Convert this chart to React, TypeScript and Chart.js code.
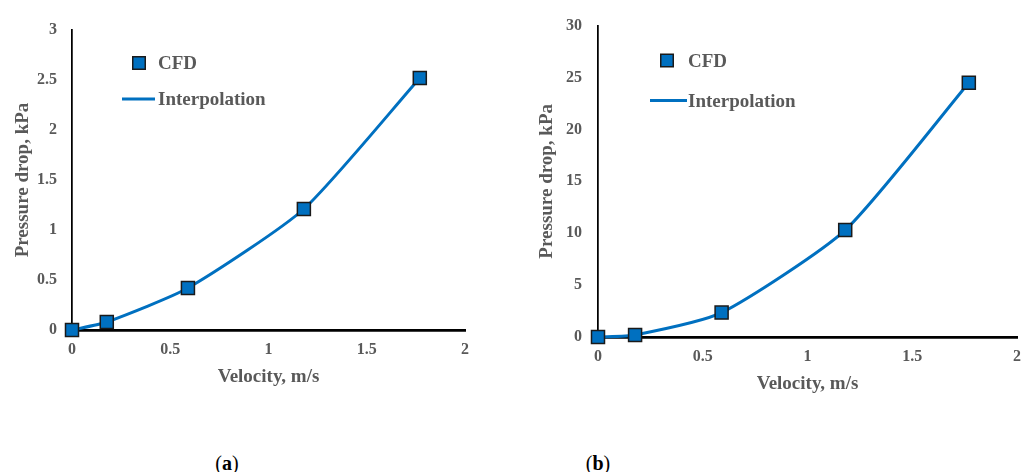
import React, { useEffect, useRef } from "react";
import { Chart, registerables } from "chart.js";

Chart.register(...registerables);

// ---------- data ----------
const velocityA = [0, 0.177, 0.59, 1.18, 1.77];
const pressureA = [0, 0.08, 0.42, 1.21, 2.52];
const velocityB = [0, 0.177, 0.59, 1.18, 1.77];
const pressureB = [0, 0.2, 2.35, 10.3, 24.5];

const xTicks = [0, 0.5, 1, 1.5, 2];
const yTicksA = [0, 0.5, 1, 1.5, 2, 2.5, 3];
const yTicksB = [0, 5, 10, 15, 20, 25, 30];

const seriesNames = ["CFD", "Interpolation"];
const xTitle = "Velocity, m/s";
const yTitle = "Pressure drop, kPa";

// ---------- styles ----------
const BLUE = "#0070C0";
const TEXT = "#595959";
const FAMILY = "'Liberation Serif', 'Times New Roman', serif";

type PanelCfg = {
  left: number;
  width: number;
  height: number;
  yAxisWidth: number;
  padTop: number;
  padRight: number;
  yTitlePad: number;
  yTickPad: number;
  yMax: number;
  yTicks: number[];
  xs: number[];
  ys: number[];
  legend: { mx: number; my: number; tx: number; l1: number; l2: number; ly: number };
};

const legendPlugin = {
  id: "insideLegend",
  afterDatasetsDraw(chart: any, _args: any, opts: any) {
    const { ctx, chartArea } = chart;
    const L = opts.pos;
    if (!L) return;
    const x0 = chartArea.left;
    const y0 = chartArea.top;
    ctx.save();
    const s = 12.5;
    ctx.fillStyle = BLUE;
    ctx.strokeStyle = "#1a1a1a";
    ctx.lineWidth = 1.5;
    ctx.beginPath();
    ctx.rect(x0 + L.mx - s / 2, y0 + L.my - s / 2, s, s);
    ctx.fill();
    ctx.stroke();
    ctx.strokeStyle = BLUE;
    ctx.lineWidth = 3;
    ctx.beginPath();
    ctx.moveTo(x0 + L.l1, y0 + L.ly);
    ctx.lineTo(x0 + L.l2, y0 + L.ly);
    ctx.stroke();
    ctx.fillStyle = TEXT;
    ctx.font = `bold 19px ${FAMILY}`;
    ctx.textBaseline = "middle";
    ctx.textAlign = "left";
    ctx.fillText(seriesNames[0], x0 + L.tx, y0 + L.my + 1);
    ctx.fillText(seriesNames[1], x0 + L.tx, y0 + L.ly + 1);
    ctx.restore();
  },
};

function Panel({ cfg }: { cfg: PanelCfg }) {
  const ref = useRef<HTMLCanvasElement | null>(null);
  useEffect(() => {
    if (!ref.current) return;
    const pts = cfg.xs.map((x, i) => ({ x, y: cfg.ys[i] }));
    const chart = new Chart(ref.current, {
      type: "scatter",
      data: {
        datasets: [
          {
            label: seriesNames[0],
            data: pts,
            showLine: false,
            pointStyle: "rect",
            pointRadius: 9.2,
            pointHoverRadius: 9.2,
            pointBackgroundColor: BLUE,
            pointBorderColor: "#1a1a1a",
            pointBorderWidth: 1.5,
            clip: false,
          } as any,
          {
            label: seriesNames[1],
            data: pts,
            showLine: true,
            pointRadius: 0,
            borderColor: BLUE,
            borderWidth: 3,
            tension: 0.2,
            clip: false,
          } as any,
        ],
      },
      options: {
        responsive: false,
        animation: false,
        events: [],
        layout: { padding: { left: 0, top: cfg.padTop, right: cfg.padRight, bottom: 0 } },
        plugins: {
          legend: { display: false },
          tooltip: { enabled: false },
          insideLegend: { pos: cfg.legend },
        } as any,
        scales: {
          x: {
            type: "linear",
            min: 0,
            max: 2,
            afterBuildTicks: (s: any) => {
              s.ticks = xTicks.map((v) => ({ value: v }));
            },
            afterFit: (s: any) => {
              s.height = 58;
            },
            grid: { display: false, drawTicks: false },
            border: { display: true, color: "#000", width: 2.75 },
            ticks: {
              padding: 10,
              color: TEXT,
              font: { family: FAMILY, size: 16, weight: "bold" },
              callback: (v: any) => String(v),
              maxRotation: 0,
              autoSkip: false,
            },
            title: {
              display: true,
              text: xTitle,
              color: TEXT,
              font: { family: FAMILY, size: 19, weight: "bold" },
              padding: { top: 0, bottom: 0 },
            },
          },
          y: {
            type: "linear",
            min: 0,
            max: cfg.yMax,
            afterBuildTicks: (s: any) => {
              s.ticks = cfg.yTicks.map((v) => ({ value: v }));
            },
            afterFit: (s: any) => {
              s.width = cfg.yAxisWidth;
            },
            grid: { display: false, drawTicks: false },
            border: { display: true, color: "#000", width: 1.75 },
            ticks: {
              padding: cfg.yTickPad,
              color: TEXT,
              font: { family: FAMILY, size: 16, weight: "bold" },
              callback: (v: any) => String(v),
              autoSkip: false,
            },
            title: {
              display: true,
              text: yTitle,
              color: TEXT,
              font: { family: FAMILY, size: 19, weight: "bold" },
              padding: { top: cfg.yTitlePad, bottom: 0 },
            },
          },
        },
      } as any,
      plugins: [legendPlugin],
    });
    return () => chart.destroy();
  }, [cfg]);
  return (
    <canvas
      ref={ref}
      width={cfg.width}
      height={cfg.height}
      style={{ position: "absolute", left: cfg.left, top: 0, width: cfg.width, height: cfg.height }}
    />
  );
}

const cfgA: PanelCfg = {
  left: 0,
  width: 490,
  height: 388,
  yAxisWidth: 72,
  padTop: 30,
  padRight: 25,
  yTitlePad: 12,
  yTickPad: 15,
  yMax: 3,
  yTicks: yTicksA,
  xs: velocityA,
  ys: pressureA,
  legend: { mx: 67, my: 33, tx: 86, l1: 50, l2: 83, ly: 69 },
};

const cfgB: PanelCfg = {
  left: 500,
  width: 531,
  height: 395,
  yAxisWidth: 98,
  padTop: 18,
  padRight: 14,
  yTitlePad: 36,
  yTickPad: 16,
  yMax: 30,
  yTicks: yTicksB,
  xs: velocityB,
  ys: pressureB,
  legend: { mx: 69, my: 35, tx: 90, l1: 52, l2: 89, ly: 75 },
};

const capStyle: React.CSSProperties = {
  position: "absolute",
  top: 463,
  transform: "translate(-50%, -50%)",
  fontFamily: FAMILY,
  fontSize: 20,
  lineHeight: 1,
  color: "#000",
  whiteSpace: "nowrap",
};

export default function App() {
  return (
    <div style={{ position: "fixed", left: 0, top: 0, width: 1031, height: 472, background: "#fff", overflow: "hidden" }}>
      <Panel cfg={cfgA} />
      <Panel cfg={cfgB} />
      <div style={{ ...capStyle, left: 227 }}>
        (<b>a</b>)
      </div>
      <div style={{ ...capStyle, left: 598 }}>
        (<b>b</b>)
      </div>
    </div>
  );
}
